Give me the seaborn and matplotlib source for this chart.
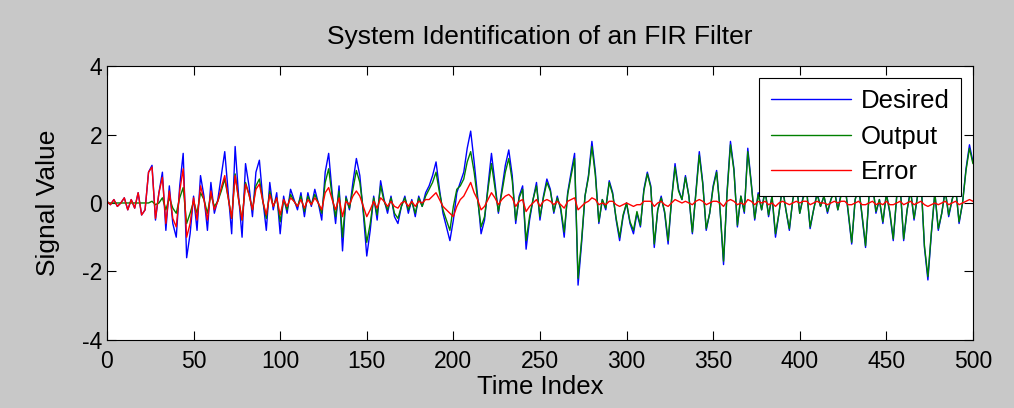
import numpy as np
import pandas as pd
import seaborn as sns
import matplotlib
matplotlib.use("Agg")
import matplotlib.pyplot as plt

# values, every 2nd time index (0..500)
time_index = list(range(0, 501, 2))

desired = [
    0.05, -0.05, 0.1, -0.1, 0.0, 0.15, -0.2, 0.1, -0.15, 0.3,
    -0.35, -0.2, 0.9, 1.1, -0.5, 0.3, 0.9, -0.8, 0.5, -0.6,
    -1.0, 0.5, 1.45, -1.6, -0.9, 0.2, -0.8, 0.8, 0.2, -0.8,
    0.6, -0.3, 0.1, 0.8, 1.5, 0.3, -0.9, 1.65, 0.2, -1.0,
    1.15, 0.5, -0.4, 0.9, 1.25, 0.1, -0.8, 0.6, -0.2, 0.3,
    -0.9, 0.2, -0.3, 0.4, 0.1, -0.2, 0.3, -0.4, 0.3, -0.1,
    0.4, 0.0, -0.5, 0.9, 1.45, 0.3, -0.6, 0.5, -1.4, 0.2,
    -0.2, 0.6, 1.3, 0.8, -0.3, -1.55, -0.8, 0.2, -0.5, 0.65,
    0.1, -0.3, 0.2, -0.4, -0.6, -0.1, 0.2, -0.3, 0.1, -0.4,
    0.2, -0.1, 0.3, 0.5, 0.8, 1.2, 0.4, -0.3, -0.7, -1.1,
    -0.5, 0.3, 0.6, 0.9, 1.6, 2.1, 1.2, 0.2, -0.9, -0.5,
    0.5, 1.45, 0.6, -0.3, 0.4, 1.1, 1.55, 0.8, -0.6, 0.2,
    0.5, -1.35, -0.5, 0.1, 0.6, -0.5, 0.2, 0.7, 0.4, -0.3,
    0.2, -0.2, -1.0, 0.3, 0.9, 1.45, -2.4, -1.2, 0.2, 0.8,
    1.8, 0.9, -0.6, 0.1, -0.2, 0.65, 0.3, -0.5, -1.1, -0.4,
    0.0, -0.6, -0.9, -0.3, -0.7, 0.4, 0.9, 0.5, -1.3, -0.2,
    0.2, -0.3, -1.2, 0.1, 1.15, 0.4, 0.1, 0.8, 0.2, -0.9,
    0.3, 1.5, 0.6, -0.8, -0.3, 0.5, 0.95, -0.2, -1.8, 0.3,
    1.8, 1.0, -0.7, 0.2, -0.3, 1.6, 0.6, -0.5, 0.3, -0.2,
    0.4, -0.4, 0.2, -1.0, -0.3, 0.5, -0.2, -0.8, 0.1, 0.6,
    -0.3, 0.2, 0.4, -0.75, -0.2, 0.3, -0.1, 0.2, -0.3, 0.1,
    0.4, -0.2, 0.3, 0.6, -0.3, -1.2, 0.1, 0.5, -0.4, -1.3,
    0.2, 0.6, -0.3, 0.1, -0.6, 0.3, -0.3, -1.1, 0.2, 0.5,
    -1.1, -0.2, 0.4, -0.5, 0.2, 0.7, -1.3, -2.25, -0.9, 0.3,
    -0.8, -0.3, 0.4, -0.4, 0.1, 0.5, -0.6, 0.0, 1.0, 1.7,
    1.2,
]

error = [
    0.05, -0.05, 0.1, -0.1, 0.0, 0.15, -0.2, 0.1, -0.15, 0.3,
    -0.35, -0.2, 0.9, 1.05, -0.45, 0.3, 0.75, -0.6, 0.35, -0.45,
    -0.7, 0.35, 1.0, -1.0, -0.6, 0.15, -0.5, 0.5, 0.1, -0.5,
    0.35, -0.2, 0.05, 0.45, 0.8, 0.15, -0.45, 0.8, 0.1, -0.5,
    0.55, 0.25, -0.2, 0.4, 0.55, 0.05, -0.35, 0.25, -0.1, 0.15,
    -0.35, 0.1, -0.1, 0.15, 0.05, -0.1, 0.1, -0.15, 0.1, -0.05,
    0.15, 0.0, -0.2, 0.3, 0.45, 0.1, -0.2, 0.15, -0.4, 0.05,
    -0.05, 0.2, 0.35, 0.2, -0.1, -0.4, -0.2, 0.05, -0.15, 0.15,
    0.05, -0.1, 0.05, -0.1, -0.15, 0.0, 0.05, -0.1, 0.05, -0.1,
    0.05, 0.0, 0.1, 0.1, 0.2, 0.3, 0.1, -0.1, -0.2, -0.3,
    -0.4, -0.1, 0.1, 0.2, 0.4, 0.6, 0.3, 0.1, -0.2, -0.1,
    0.1, 0.3, 0.15, -0.05, 0.1, 0.2, 0.25, 0.15, -0.1, 0.05,
    0.1, -0.25, -0.1, 0.0, 0.1, -0.1, 0.05, 0.1, 0.05, -0.05,
    0.05, -0.05, -0.15, 0.05, 0.1, 0.15, -0.2, -0.1, 0.0, 0.05,
    0.15, 0.1, -0.05, 0.0, -0.05, 0.05, 0.05, -0.05, -0.1, -0.05,
    0.0, -0.05, -0.1, -0.05, -0.05, 0.05, 0.05, 0.05, -0.1, 0.0,
    0.05, -0.05, -0.1, 0.0, 0.1, 0.05, 0.0, 0.05, 0.0, -0.05,
    0.05, 0.1, 0.05, -0.05, 0.0, 0.05, 0.05, 0.0, -0.1, 0.05,
    0.1, 0.05, -0.05, 0.0, -0.05, 0.1, 0.05, -0.05, 0.05, 0.0,
    0.05, -0.05, 0.0, -0.1, 0.0, 0.05, 0.0, -0.05, 0.0, 0.05,
    0.0, 0.05, 0.05, -0.05, 0.0, 0.05, 0.0, 0.0, -0.05, 0.0,
    0.05, 0.0, 0.05, 0.05, -0.05, -0.05, 0.0, 0.05, -0.05, -0.05,
    0.0, 0.05, -0.05, 0.0, -0.05, 0.05, -0.05, -0.05, 0.0, 0.05,
    -0.05, 0.0, 0.05, -0.05, 0.0, 0.05, -0.05, -0.1, -0.05, 0.0,
    -0.05, 0.0, 0.05, -0.05, 0.0, 0.05, -0.05, 0.0, 0.05, 0.1,
    0.05,
]

# filter output is what is left of the desired signal after the error
output = [d - e for d, e in zip(desired, error)]

df = pd.DataFrame({
    "Time Index": time_index * 3,
    "Signal Value": desired + output + error,
    "series": ["Desired"] * len(time_index) + ["Output"] * len(time_index) + ["Error"] * len(time_index),
})

sns.set_style("ticks")
plt.rcParams["font.family"] = ["Liberation Sans", "DejaVu Sans"]
plt.rcParams["axes.unicode_minus"] = False
plt.rcParams["xtick.direction"] = "in"
plt.rcParams["ytick.direction"] = "in"
plt.rcParams["text.color"] = "black"
plt.rcParams["axes.labelcolor"] = "black"

fig = plt.figure(figsize=(10.14, 4.08), dpi=100, facecolor="#c8c8c8")
ax = fig.add_axes([0.1055, 0.167, 0.854, 0.671])
ax.set_facecolor("white")

sns.lineplot(data=df, x="Time Index", y="Signal Value", hue="series",
             palette={"Desired": "#0000ff", "Output": "#008000", "Error": "#ff0000"},
             linewidth=1.0, ax=ax)

ax.set_xlim(0, 500)
ax.set_ylim(-4, 4)
ax.set_xticks(range(0, 501, 50))
ax.set_yticks([-4, -2, 0, 2, 4])
ax.tick_params(top=True, right=True, length=6.5, width=0.8, labelsize=16.5,
               colors="black")
ax.tick_params(axis="x", pad=7)
for s in ax.spines.values():
    s.set_visible(True)
    s.set_color("black")
    s.set_linewidth(0.8)

ax.set_title("System Identification of an FIR Filter", fontsize=19, pad=16, color="black")
ax.set_xlabel("Time Index", fontsize=18.5, labelpad=2)
ax.set_ylabel("Signal Value", fontsize=19, labelpad=16)

leg = ax.legend(loc="upper right", fontsize=18.5, handlelength=3.1, handletextpad=0.4,
                frameon=True, fancybox=False, framealpha=1, edgecolor="black",
                borderaxespad=0.45, labelspacing=0.45, borderpad=0.45)
leg.get_frame().set_linewidth(0.8)

fig.savefig("out.png", dpi=100, facecolor=fig.get_facecolor())
